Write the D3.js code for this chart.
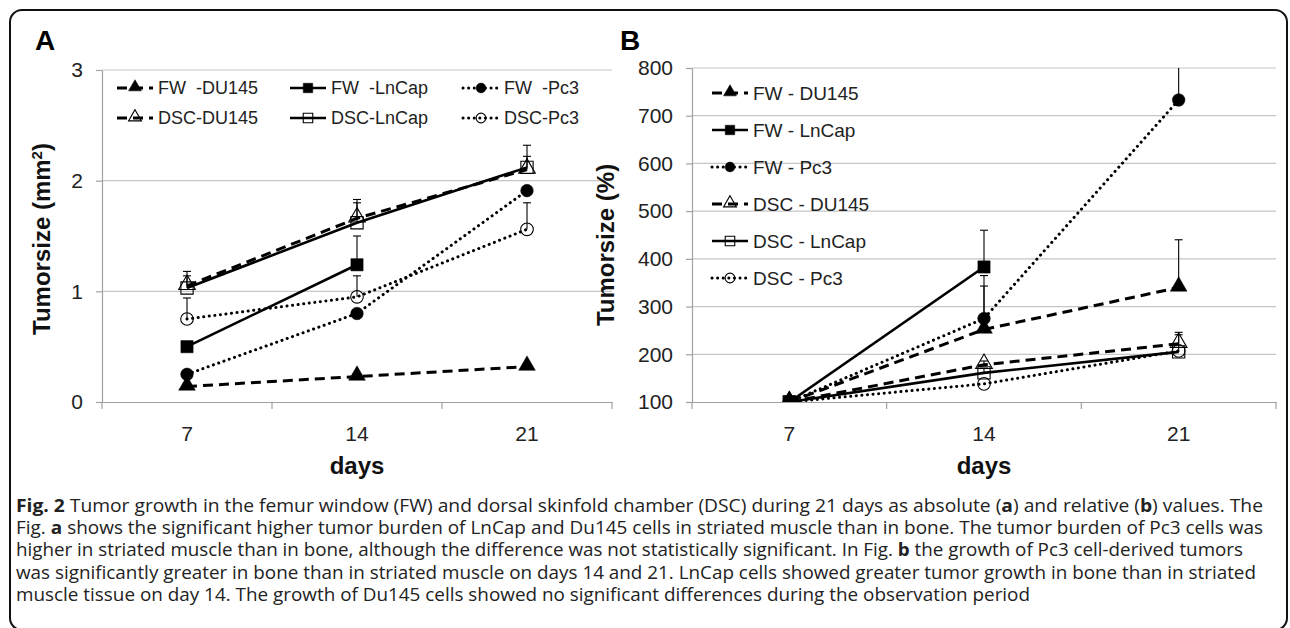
<!DOCTYPE html>
<html>
<head>
<meta charset="utf-8">
<script src="https://cdn.jsdelivr.net/npm/d3@7"></script>
<style>
  body { margin: 0; background: #fff; }
  text { white-space: pre; }
</style>
</head>
<body>
<svg id="chart" width="1290" height="628"></svg>
<script>
// ---- data ----
var days = ["7", "14", "21"];

// panel A : absolute tumour size (mm2)
var aFwDu145  = [0.14, 0.23, 0.32];
var aFwLnCap  = [0.50, 1.24, null];
var aFwPc3    = [0.25, 0.80, 1.91];
var aDscDu145 = [1.05, 1.66, 2.10];
var aDscLnCap = [1.03, 1.62, 2.12];
var aDscPc3   = [0.75, 0.95, 1.56];
// upper error bars (sd)
var aErrFwDu145  = [0, 0, 0];
var aErrFwLnCap  = [0, 0.26, null];
var aErrFwPc3    = [0, 0, 0];
var aErrDscDu145 = [0.13, 0.17, 0.22];
var aErrDscLnCap = [0.11, 0.18, 0.10];
var aErrDscPc3   = [0.19, 0.19, 0.24];

// panel B : relative tumour size (%)
var bFwDu145  = [100, 252, 340];
var bFwLnCap  = [100, 383, null];
var bFwPc3    = [100, 275, 733];
var bDscDu145 = [100, 178, 222];
var bDscLnCap = [100, 161, 205];
var bDscPc3   = [100, 138, 207];
var bErrFwDu145  = [0, 91, 100];
var bErrFwLnCap  = [0, 77, null];
var bErrFwPc3    = [0, 90, 120];
var bErrDscDu145 = [0, 8, 24];
var bErrDscLnCap = [0, 10, 36];
var bErrDscPc3   = [0, 0, 0];

var aTicks = [0, 1, 2, 3];
var bTicks = [100, 200, 300, 400, 500, 600, 700, 800];

var legendA = ["FW  -DU145", "FW  -LnCap", "FW  -Pc3", "DSC-DU145", "DSC-LnCap", "DSC-Pc3"];
var legendB = ["FW - DU145", "FW - LnCap", "FW - Pc3", "DSC - DU145", "DSC - LnCap", "DSC - Pc3"];
var cellLine = ["DU145", "LnCap", "Pc3", "DU145", "LnCap", "Pc3"];
var site     = ["FW", "FW", "FW", "DSC", "DSC", "DSC"];

var captionLines = [
  [["b", "Fig. 2"], ["n", " Tumor growth in the femur window (FW) and dorsal skinfold chamber (DSC) during 21 days as absolute ("], ["b", "a"], ["n", ") and relative ("], ["b", "b"], ["n", ") values. The"]],
  [["n", "Fig. "], ["b", "a"], ["n", " shows the significant higher tumor burden of LnCap and Du145 cells in striated muscle than in bone. The tumor burden of Pc3 cells was"]],
  [["n", "higher in striated muscle than in bone, although the difference was not statistically significant. In Fig. "], ["b", "b"], ["n", " the growth of Pc3 cell-derived tumors"]],
  [["n", "was significantly greater in bone than in striated muscle on days 14 and 21. LnCap cells showed greater tumor growth in bone than in striated"]],
  [["n", "muscle tissue on day 14. The growth of Du145 cells showed no significant differences during the observation period"]]
];

// ---- styles ----
var chartFont = "'Liberation Sans', Arial, sans-serif";
var lineStyle = {
  DU145: { width: 3, dash: "10,6", cap: "butt" },
  LnCap: { width: 2.6, dash: null, cap: "butt" },
  Pc3:   { width: 3, dash: "0.1,5.5", cap: "round" }
};
var markerType = { DU145: d3.symbolTriangle, LnCap: d3.symbolSquare, Pc3: d3.symbolCircle };
var markerSize = { DU145: 120, LnCap: 150, Pc3: 125 };

var svg = d3.select("#chart");

// frame round the figure
svg.append("rect")
  .attr("x", 10).attr("y", 10)
  .attr("width", 1277).attr("height", 620)
  .attr("rx", 12)
  .attr("fill", "none")
  .attr("stroke", "#111")
  .attr("stroke-width", 2);

function makeSeries(vals, errs, names) {
  return vals.map(function (v, i) {
    return { name: names[i], cell: cellLine[i], site: site[i], values: v, err: errs[i] };
  });
}

function drawMarker(g, s, x, y, scale) {
  // excel centres the triangle on its box, d3 on its centroid
  var dy = s.cell === "DU145" ? -Math.sqrt(markerSize[s.cell] * (scale || 1)) * 0.1 : 0;
  g.append("path")
    .attr("d", d3.symbol().type(markerType[s.cell]).size(markerSize[s.cell] * (scale || 1))())
    .attr("transform", "translate(" + x + "," + (y + dy) + ")")
    .attr("fill", s.site === "FW" ? "#000" : "none")
    .attr("stroke", "#000")
    .attr("stroke-width", s.site === "FW" ? 0.5 : 1.1);
}

function styleLine(sel, s) {
  var st = lineStyle[s.cell];
  sel.attr("fill", "none")
    .attr("stroke", "#000")
    .attr("stroke-width", st.width)
    .attr("stroke-linecap", st.cap)
    .attr("stroke-dasharray", st.dash);
}

function drawPanel(p) {
  var g = svg.append("g");

  var x = d3.scaleBand().domain(days).range([p.left, p.right]);
  var y = d3.scaleLinear().domain([p.ticks[0], p.ticks[p.ticks.length - 1]]).range([p.bottom, p.top]);
  var cx = function (i) { return x(days[i]) + x.bandwidth() / 2; };

  var clipId = "clip" + p.id;
  svg.append("clipPath").attr("id", clipId)
    .append("rect")
    .attr("x", p.left).attr("y", p.top)
    .attr("width", p.right - p.left).attr("height", p.bottom - p.top);

  // gridlines
  g.selectAll(".grid")
    .data(p.ticks.slice(1))
    .enter()
    .append("line")
    .attr("x1", p.left).attr("x2", p.right)
    .attr("y1", function (d) { return y(d); })
    .attr("y2", function (d) { return y(d); })
    .attr("stroke", "#c6c6c6")
    .attr("stroke-width", 1.2);

  // y axis
  var yAxis = g.append("g")
    .attr("transform", "translate(" + p.left + ",0)")
    .call(d3.axisLeft(y).tickValues(p.ticks).tickFormat(d3.format("d"))
      .tickSize(6).tickSizeOuter(0).tickPadding(13));
  yAxis.select(".domain").attr("stroke", "#a0a0a0").attr("stroke-width", 1.2);
  yAxis.selectAll(".tick line").attr("stroke", "#a0a0a0").attr("stroke-width", 1.2);
  yAxis.selectAll(".tick text")
    .attr("font-family", chartFont).attr("font-size", 21).attr("fill", "#222");

  // x axis: labels in band centres, ticks on band edges
  var xAxis = g.append("g")
    .attr("transform", "translate(0," + p.bottom + ")")
    .call(d3.axisBottom(x).tickSize(0).tickSizeOuter(0).tickPadding(24));
  xAxis.select(".domain").attr("stroke", "#a0a0a0").attr("stroke-width", 1.2);
  xAxis.selectAll(".tick text")
    .attr("font-family", chartFont).attr("font-size", 21).attr("fill", "#222");
  g.selectAll(".xtick")
    .data(d3.range(days.length + 1))
    .enter()
    .append("line")
    .attr("x1", function (i) { return p.left + i * x.step(); })
    .attr("x2", function (i) { return p.left + i * x.step(); })
    .attr("y1", p.bottom).attr("y2", p.bottom + 7)
    .attr("stroke", "#a0a0a0").attr("stroke-width", 1.2);

  // axis titles
  g.append("text")
    .attr("transform", "translate(" + p.yTitleX + "," + p.yTitleY + ") rotate(-90)")
    .attr("text-anchor", "middle")
    .attr("font-family", chartFont).attr("font-weight", "bold").attr("font-size", 24)
    .attr("fill", "#111")
    .call(p.yTitle);
  g.append("text")
    .attr("x", (p.left + p.right) / 2).attr("y", 474)
    .attr("text-anchor", "middle")
    .attr("font-family", chartFont).attr("font-weight", "bold").attr("font-size", 24)
    .attr("fill", "#111")
    .text("days");

  // panel letter
  g.append("text")
    .attr("x", p.letterX).attr("y", 50)
    .attr("font-family", chartFont).attr("font-weight", "bold").attr("font-size", 28)
    .attr("fill", "#000")
    .text(p.letter);

  var plot = g.append("g").attr("clip-path", "url(#" + clipId + ")");

  // error bars (upper only)
  p.series.forEach(function (s) {
    s.values.forEach(function (v, i) {
      var e = s.err[i];
      if (v == null || !e) return;
      plot.append("line")
        .attr("x1", cx(i)).attr("x2", cx(i))
        .attr("y1", y(v)).attr("y2", y(v + e))
        .attr("stroke", "#000").attr("stroke-width", 1.1);
      plot.append("line")
        .attr("x1", cx(i) - 4).attr("x2", cx(i) + 4)
        .attr("y1", y(v + e)).attr("y2", y(v + e))
        .attr("stroke", "#000").attr("stroke-width", 1.1);
    });
  });

  // lines
  var line = d3.line()
    .defined(function (d) { return d.v != null; })
    .x(function (d) { return cx(d.i); })
    .y(function (d) { return y(d.v); });
  p.series.forEach(function (s) {
    var pts = s.values.map(function (v, i) { return { v: v, i: i }; });
    plot.append("path").attr("d", line(pts)).call(styleLine, s);
  });

  // markers
  p.series.forEach(function (s) {
    s.values.forEach(function (v, i) {
      if (v == null) return;
      drawMarker(plot, s, cx(i), y(v));
    });
  });

  // legend
  p.series.forEach(function (s, k) {
    var pos = p.legendPos(k);
    var lg = g.append("g");
    lg.append("line")
      .attr("x1", pos[0]).attr("x2", pos[0] + p.legendLen)
      .attr("y1", pos[1]).attr("y2", pos[1])
      .call(styleLine, s);
    drawMarker(lg, s, pos[0] + p.legendLen / 2, pos[1], 0.6);
    lg.append("text")
      .attr("x", pos[0] + p.legendLen + p.legendGap).attr("y", pos[1])
      .attr("dy", "0.35em")
      .attr("font-family", chartFont).attr("font-size", p.legendFont)
      .attr("fill", "#222")
      .text(s.name);
  });
}

drawPanel({
  id: "A", letter: "A", letterX: 35,
  left: 102, right: 612, top: 70, bottom: 402,
  ticks: aTicks,
  yTitleX: 50, yTitleY: 239,
  yTitle: function (t) {
    t.append("tspan").text("Tumorsize (mm");
    t.append("tspan").attr("dy", -8).attr("font-size", 15).text("2");
    t.append("tspan").attr("dy", 8).text(")");
  },
  series: makeSeries(
    [aFwDu145, aFwLnCap, aFwPc3, aDscDu145, aDscLnCap, aDscPc3],
    [aErrFwDu145, aErrFwLnCap, aErrFwPc3, aErrDscDu145, aErrDscLnCap, aErrDscPc3],
    legendA),
  legendPos: function (k) { return [[117, 290, 463][k % 3], k < 3 ? 88 : 118]; },
  legendLen: 36, legendGap: 5, legendFont: 18
});

drawPanel({
  id: "B", letter: "B", letterX: 620,
  left: 692, right: 1276, top: 68, bottom: 402,
  ticks: bTicks,
  yTitleX: 614, yTitleY: 245,
  yTitle: function (t) { t.text("Tumorsize (%)"); },
  series: makeSeries(
    [bFwDu145, bFwLnCap, bFwPc3, bDscDu145, bDscLnCap, bDscPc3],
    [bErrFwDu145, bErrFwLnCap, bErrFwPc3, bErrDscDu145, bErrDscLnCap, bErrDscPc3],
    legendB),
  legendPos: function (k) { return [712, 93 + k * 37]; },
  legendLen: 36, legendGap: 5, legendFont: 19
});

// caption
var capWidths = [1247, 1247, 1227, 1240, 1014];
captionLines.forEach(function (parts, li) {
  var t = svg.append("text")
    .attr("x", 16).attr("y", 512 + li * 22.2)
    .attr("font-family", "'Open Sans', 'Noto Sans', sans-serif")
    .attr("font-size", 17.5)
    .attr("fill", "#222")
    .attr("textLength", capWidths[li])
    .attr("lengthAdjust", "spacingAndGlyphs");
  parts.forEach(function (pt) {
    t.append("tspan")
      .attr("font-weight", pt[0] === "b" ? "bold" : "normal")
      .text(pt[1]);
  });
});
</script>
</body>
</html>
